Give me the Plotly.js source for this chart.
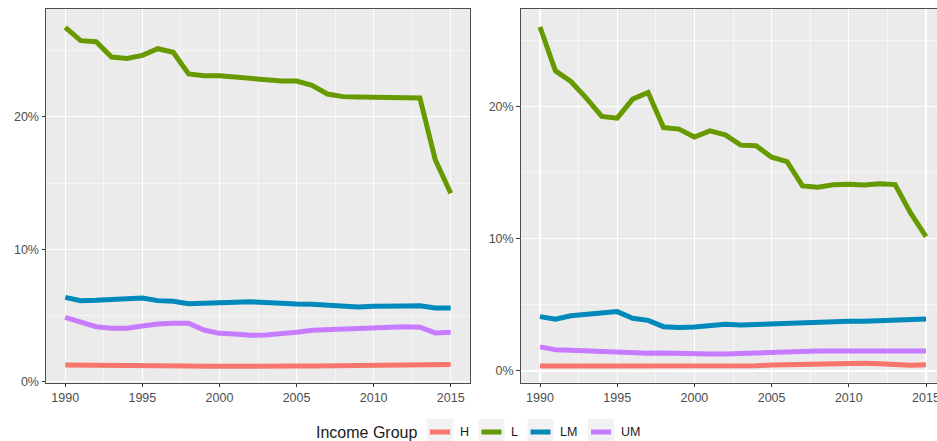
<!DOCTYPE html>
<html>
<head>
<meta charset="utf-8">
<script src="https://cdn.plot.ly/plotly-3.0.1.min.js"></script>
<style>
html,body{margin:0;padding:0;overflow:hidden;background:#fff;width:937px;height:441px;}
#chart{width:946px;height:441px;}
</style>
</head>
<body>
<div id="chart"></div>
<script>
const years = [1990,1991,1992,1993,1994,1995,1996,1997,1998,1999,2000,2001,2002,2003,2004,2005,2006,2007,2008,2009,2010,2011,2012,2013,2014,2015];
const groups = ["H","L","LM","UM"];
const groupColors = ["#F8766D","#679A00","#0089BB","#C77CFF"];
const legendTitle = "Income Group";

// left panel (%)
const leftH  = [1.26,1.26,1.24,1.20,1.19,1.19,1.19,1.19,1.18,1.16,1.15,1.16,1.17,1.18,1.18,1.18,1.19,1.20,1.21,1.19,1.19,1.19,1.19,1.19,1.26,1.29];
const leftL  = [26.77,25.76,25.68,24.52,24.42,24.65,25.15,24.88,23.24,23.11,23.11,23.01,22.94,22.79,22.71,22.71,22.39,21.73,21.53,21.50,21.48,21.53,21.50,21.43,16.75,14.23];
const leftLM = [6.37,6.12,6.15,6.22,6.32,6.32,6.12,6.07,5.89,5.92,6.00,5.94,6.04,5.97,5.89,5.87,5.85,5.79,5.77,5.64,5.69,5.74,5.72,5.74,5.57,5.57];
const leftUM = [4.86,4.46,4.15,4.03,4.03,4.21,4.36,4.41,4.41,3.90,3.65,3.60,3.50,3.53,3.60,3.73,3.88,3.93,3.98,4.03,4.13,4.15,4.15,4.11,3.68,3.73];

// right panel (%)
const rightH  = [0.38,0.38,0.38,0.38,0.39,0.40,0.40,0.38,0.37,0.36,0.35,0.35,0.35,0.37,0.40,0.45,0.48,0.53,0.53,0.55,0.53,0.58,0.55,0.50,0.43,0.48];
const rightL  = [26.00,22.69,21.88,20.63,19.24,19.11,20.55,21.05,18.40,18.28,17.68,18.15,17.85,17.07,17.02,16.16,15.83,13.99,13.89,14.07,14.12,14.05,14.15,14.09,11.95,10.16];
const rightLM = [4.11,3.91,4.18,4.29,4.44,4.49,3.99,3.83,3.35,3.28,3.33,3.40,3.53,3.48,3.53,3.56,3.61,3.66,3.68,3.73,3.76,3.76,3.81,3.91,3.93,3.93];
const rightUM = [1.82,1.61,1.56,1.51,1.51,1.39,1.34,1.34,1.36,1.31,1.31,1.29,1.29,1.34,1.36,1.39,1.41,1.46,1.51,1.51,1.51,1.51,1.51,1.51,1.46,1.51];

const xTicks = [1990,1995,2000,2005,2010,2015];
const yTicks = [0,10,20];

const leftSeries = [leftH,leftL,leftLM,leftUM];
const rightSeries = [rightH,rightL,rightLM,rightUM];

const traces = [];
groups.forEach((g,i)=>{
  traces.push({x:years,y:leftSeries[i],type:'scatter',mode:'lines',name:g,legendgroup:g,
    line:{color:groupColors[i],width:5},xaxis:'x',yaxis:'y',showlegend:false,hoverinfo:'skip'});
});
groups.forEach((g,i)=>{
  traces.push({x:years,y:rightSeries[i],type:'scatter',mode:'lines',name:g,legendgroup:g,
    line:{color:groupColors[i],width:5},xaxis:'x2',yaxis:'y2',showlegend:false,hoverinfo:'skip'});
});

const W = 946, H = 441;
const fam = '"Liberation Sans", Arial, sans-serif';
const tickFont = {family:fam, size:12.5, color:'#4d4d4d'};
function xax(d0,d1,anchor){
  return {domain:[d0/W,d1/W],range:[1988.75,2016.25],anchor:anchor,tickvals:xTicks,ticktext:xTicks.map(String),
    showgrid:true,gridcolor:'#ffffff',gridwidth:1.1,zeroline:false,
    minor:{tickvals:[1992.5,1997.5,2002.5,2007.5,2012.5],showgrid:true,gridcolor:'#ffffff',gridwidth:0.5,ticks:''},
    ticks:'outside',ticklen:3.5,tickcolor:'#333333',tickwidth:1,tickfont:tickFont,
    showline:true,mirror:true,linecolor:'#4d4d4d',linewidth:1,automargin:false,fixedrange:true};
}
function yax(range,anchor){
  return {domain:[(H-382.7)/H,(H-9)/H],range:range,anchor:anchor,tickvals:yTicks,ticktext:yTicks.map(v=>v+'%'),
    showgrid:true,gridcolor:'#ffffff',gridwidth:1.1,zeroline:false,
    minor:{tickvals:[5,15,25],showgrid:true,gridcolor:'#ffffff',gridwidth:0.5,ticks:''},
    ticks:'outside',ticklen:3.5,tickcolor:'#333333',tickwidth:1,tickfont:tickFont,
    showline:true,mirror:true,linecolor:'#4d4d4d',linewidth:1,automargin:false,fixedrange:true};
}

// manual legend (ggplot-style keys)
const legendY = 432;           // px from top, centre of legend row
const keyLeft = [427, 478.5, 527.5, 588];  // px, left edge of each key box
const keyW = 26, keyH = 26;
const px = v => v / W;
const py = v => (H - v) / H;
const shapes = [];
const annotations = [{
  text: legendTitle, xref:'paper', yref:'paper', x:px(316), y:py(legendY), xanchor:'left', yanchor:'middle',
  showarrow:false, borderpad:0, borderwidth:0, font:{family:fam,size:16,color:'#1a1a1a'}
}];
groups.forEach((g,i)=>{
  const x0 = keyLeft[i];
  shapes.push({type:'rect', xref:'paper', yref:'paper', x0:px(x0), x1:px(x0+keyW),
    y0:py(legendY-keyH/2), y1:py(legendY+keyH/2), fillcolor:'#F2F2F2', line:{width:0}, layer:'above'});
  shapes.push({type:'line', xref:'paper', yref:'paper', x0:px(x0+3), x1:px(x0+keyW-3),
    y0:py(legendY), y1:py(legendY), line:{color:groupColors[i], width:5}, layer:'above'});
  annotations.push({text:g, xref:'paper', yref:'paper', x:px(x0+keyW+6.5), y:py(legendY), xanchor:'left', yanchor:'middle',
    showarrow:false, borderpad:0, borderwidth:0, font:{family:fam,size:12.5,color:'#1a1a1a'}});
});

const layout = {
  width:W,height:H,
  margin:{l:0,r:0,t:0,b:0,pad:0,autoexpand:false},
  paper_bgcolor:'#ffffff',plot_bgcolor:'#EBEBEB',
  font:{family:fam,color:'#000000'},
  xaxis:xax(46,470,'y'),
  yaxis:yax([-0.08,28.15],'x'),
  xaxis2:xax(520.7,945.3,'y2'),
  yaxis2:yax([-0.885,27.36],'x2'),
  showlegend:false,
  shapes:shapes,
  annotations:annotations
};

Plotly.newPlot('chart',traces,layout,{displayModeBar:false,staticPlot:true});
</script>
</body>
</html>
